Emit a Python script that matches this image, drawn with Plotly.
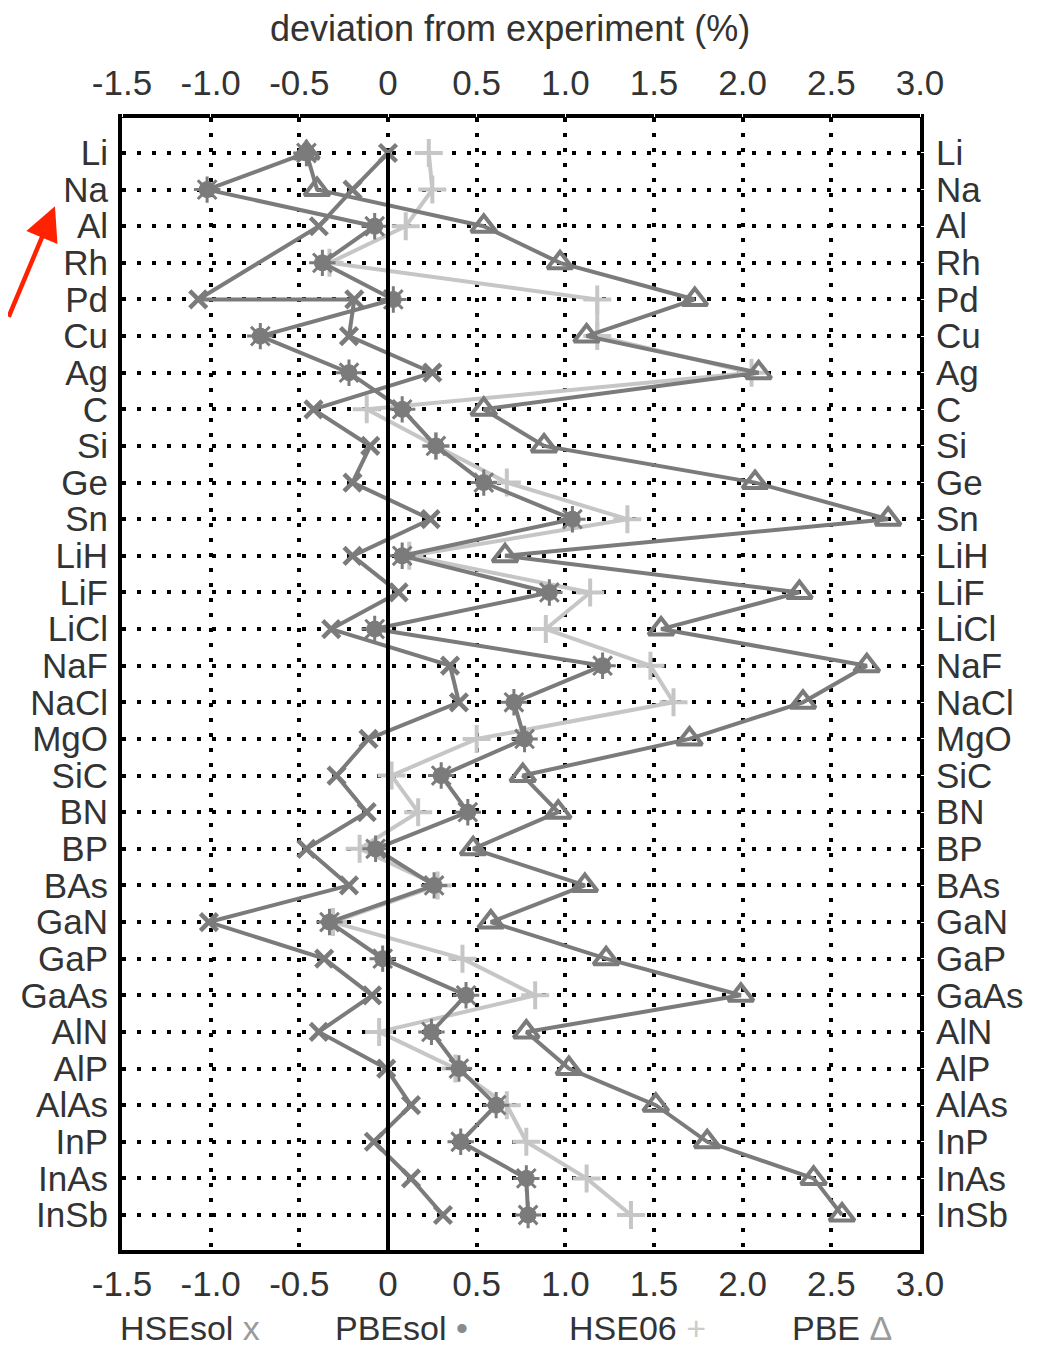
import plotly.graph_objects as go

categories = ["Li", "Na", "Al", "Rh", "Pd", "Cu", "Ag", "C", "Si", "Ge", "Sn",
              "LiH", "LiF", "LiCl", "NaF", "NaCl", "MgO", "SiC", "BN", "BP", "BAs",
              "GaN", "GaP", "GaAs", "AlN", "AlP", "AlAs", "InP", "InAs", "InSb"]

# HSEsol is drawn with two points on the Pd row (as in the original figure)
hsesol_rows = ["Li", "Na", "Al", "Pd", "Pd", "Cu", "Ag", "C", "Si", "Ge", "Sn",
               "LiH", "LiF", "LiCl", "NaF", "NaCl", "MgO", "SiC", "BN", "BP", "BAs",
               "GaN", "GaP", "GaAs", "AlN", "AlP", "AlAs", "InP", "InAs", "InSb"]
hsesol = [0.00, -0.20, -0.39, -1.07, -0.19, -0.22, 0.25, -0.42, -0.10, -0.20, 0.24,
          -0.20, 0.06, -0.32, 0.35, 0.40, -0.11, -0.29, -0.12, -0.46, -0.22,
          -1.01, -0.36, -0.09, -0.39, -0.01, 0.13, -0.08, 0.13, 0.31]
pbesol = [-0.46, -1.02, -0.075, -0.37, 0.03, -0.72, -0.22, 0.08, 0.27, 0.54, 1.04,
          0.08, 0.91, -0.075, 1.21, 0.71, 0.77, 0.30, 0.45, -0.07, 0.26,
          -0.33, -0.03, 0.44, 0.245, 0.40, 0.61, 0.41, 0.78, 0.79]
hse06 = [0.23, 0.25, 0.10, -0.33, 1.18, 1.18, 2.05, -0.12, 0.27, 0.67, 1.35,
         0.12, 1.14, 0.89, 1.48, 1.61, 0.50, 0.02, 0.17, -0.16, 0.28,
         -0.31, 0.42, 0.83, -0.05, 0.38, 0.67, 0.78, 1.12, 1.37]
pbe = [-0.46, -0.40, 0.54, 0.97, 1.73, 1.12, 2.09, 0.54, 0.88, 2.07, 2.82,
       0.66, 2.32, 1.54, 2.70, 2.34, 1.70, 0.76, 0.96, 0.48, 1.11,
       0.58, 1.23, 1.99, 0.78, 1.02, 1.51, 1.80, 2.40, 2.56]

x_tickvals = [-1.5, -1.0, -0.5, 0, 0.5, 1.0, 1.5, 2.0, 2.5, 3.0]
x_ticktext = ["-1.5", "-1.0", "-0.5", "0", "0.5", "1.0", "1.5", "2.0", "2.5", "3.0"]
x_title = "deviation from experiment (%)"
legend_names = ["HSEsol", "PBEsol", "HSE06", "PBE"]
legend_symbols = ["x", "•", "+", "Δ"]

DARK = "#7b7b7b"
LIGHT = "#c6c6c6"
TXT = "#333333"
FONT = "Liberation Sans, Arial, sans-serif"
FS = 35

fig = go.Figure()

fig.add_trace(go.Scatter(x=hse06, y=categories, mode="lines+markers",
                         line=dict(color=LIGHT, width=4),
                         marker=dict(symbol="cross-thin-open", size=20, color=LIGHT,
                                     line=dict(color=LIGHT, width=4)),
                         name="HSE06", showlegend=False))
fig.add_trace(go.Scatter(x=hsesol, y=hsesol_rows, mode="lines+markers",
                         line=dict(color=DARK, width=4),
                         marker=dict(symbol="x-thin-open", size=17, color=DARK,
                                     line=dict(color=DARK, width=4.5)),
                         name="HSEsol", showlegend=False))
fig.add_trace(go.Scatter(x=pbesol, y=categories, mode="lines+markers",
                         line=dict(color=DARK, width=4),
                         marker=dict(symbol="circle", size=16, color=DARK,
                                     line=dict(color=DARK, width=1)),
                         name="PBEsol", showlegend=False))
fig.add_trace(go.Scatter(x=pbesol, y=categories, mode="markers",
                         marker=dict(symbol="asterisk-open", size=22, color=DARK,
                                     line=dict(color=DARK, width=3)),
                         hoverinfo="skip", showlegend=False))
fig.add_trace(go.Scatter(x=pbe, y=categories, mode="lines+markers",
                         line=dict(color=DARK, width=4),
                         marker=dict(symbol="triangle-up-open", size=22, color=DARK,
                                     line=dict(color=DARK, width=4)),
                         name="PBE", showlegend=False))
# invisible trace to activate the top axis
fig.add_trace(go.Scatter(x=[x_tickvals[0], x_tickvals[-1]], y=[categories[0], categories[0]],
                         xaxis="x2", yaxis="y2", mode="markers",
                         marker=dict(opacity=0), hoverinfo="skip", showlegend=False))

n = len(categories)
yrange = [n - 1 + 0.955, -0.955]
grid = dict(showgrid=True, gridcolor="black", gridwidth=3.5, griddash="4px,11px")

# page body has an 8px margin: figure is shrunk so the plot lands where the original is
fig.update_layout(
    width=1040, height=1343,
    margin=dict(l=114, r=128, t=110, b=101),
    paper_bgcolor="white", plot_bgcolor="white",
    font=dict(family=FONT, size=FS, color=TXT),
    xaxis=dict(range=[-1.5, 3.0], tickvals=x_tickvals, ticktext=x_ticktext,
               zeroline=False, showline=True, linecolor="black", linewidth=4,
               mirror=True, ticks="", tickfont=dict(size=FS, color=TXT), **grid),
    xaxis2=dict(range=[-1.5, 3.0], tickvals=x_tickvals, ticktext=x_ticktext,
                overlaying="x", side="top", zeroline=False, showgrid=False,
                ticks="outside", ticklen=8, tickcolor="white",
                tickfont=dict(size=FS, color=TXT)),
    yaxis=dict(type="category", categoryarray=categories, range=yrange,
               tickmode="array", tickvals=categories, ticktext=categories,
               zeroline=False, showline=True, linecolor="black", linewidth=4,
               mirror=True, ticks="outside", ticklen=3, tickcolor="white",
               tickfont=dict(size=FS, color=TXT), **grid),
    yaxis2=dict(type="category", categoryarray=categories, range=yrange,
                overlaying="y", side="right", showgrid=False, zeroline=False,
                ticks="outside", ticklen=8, tickcolor="white",
                tickmode="array", tickvals=categories, ticktext=categories,
                tickfont=dict(size=FS, color=TXT)),
)

# zero line starting from the first row
fig.add_shape(type="line", xref="x", yref="y", x0=0, x1=0, y0=0, y1=yrange[0],
              line=dict(color="black", width=4), layer="above")

fig.add_annotation(text=x_title, xref="paper", yref="paper", x=0.486, y=1.0795,
                   showarrow=False, font=dict(size=36, color=TXT),
                   xanchor="center", yanchor="middle")

legend_x = [-0.005, 0.264, 0.558, 0.837]
sym_colors = ["#9a9a9a", "#8a8a8a", "#cccccc", "#9a9a9a"]
for name, sym, lx, sc in zip(legend_names, legend_symbols, legend_x, sym_colors):
    fig.add_annotation(text=f"{name} <span style='color:{sc}'>{sym}</span>",
                       xref="paper", yref="paper", x=lx, y=-0.069,
                       showarrow=False, xanchor="left", yanchor="middle",
                       font=dict(size=34, color=TXT))

# red arrow
fig.add_annotation(xref="paper", yref="paper", x=-0.084, y=0.922, text="",
                   showarrow=True, axref="pixel", ayref="pixel", ax=-58, ay=112,
                   arrowhead=2, arrowsize=1.5, arrowwidth=4.5, arrowcolor="#ff2200")

fig.write_html("out.html")
